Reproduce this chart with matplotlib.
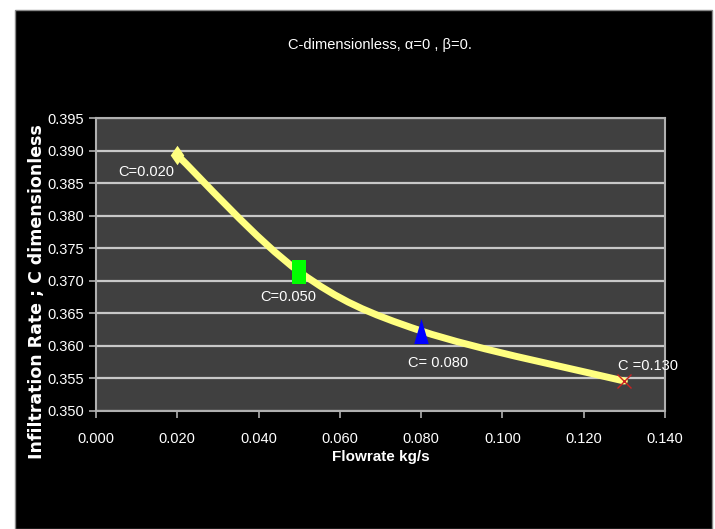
import matplotlib.pyplot as plt
from matplotlib.patches import Rectangle, PathPatch
from matplotlib.path import Path
import numpy as np

# valeurs
debit = [0.020, 0.050, 0.080, 0.130]
infiltration = [0.3893, 0.3714, 0.3623, 0.3546]
etiquettes = ["C=0.020", "C=0.050", "C= 0.080", "C =0.130"]
couleurs = ["#FFFF80", "#00FF00", "#0000FF", "#CC2222"]

plt.rcParams["font.family"] = ["Liberation Sans Narrow", "Liberation Sans", "DejaVu Sans"]

# marqueurs étirés en hauteur comme dans Excel
losange = Path([(0, 0.5), (0.35, 0), (0, -0.5), (-0.35, 0), (0, 0.5)])
rectangle = Path([(-0.3, -0.5), (0.3, -0.5), (0.3, 0.5), (-0.3, 0.5), (-0.3, -0.5)])
triangle = Path([(0, 0.5), (0.29, -0.5), (-0.29, -0.5), (0, 0.5)])
marqueurs = [losange, rectangle, triangle, "x"]
tailles = [14, 17, 18, 10]


def courbe_lisse(xs, ys):
    # courbe de Bézier type "lissage Excel" (Catmull-Rom) entre les points
    pts = list(zip(xs, ys))
    verts = [pts[0]]
    codes = [Path.MOVETO]
    for i in range(len(pts) - 1):
        p0 = pts[i - 1] if i > 0 else pts[i]
        p1 = pts[i]
        p2 = pts[i + 1]
        p3 = pts[i + 2] if i + 2 < len(pts) else pts[i + 1]
        c1 = (p1[0] + (p2[0] - p0[0]) / 6, p1[1] + (p2[1] - p0[1]) / 6)
        c2 = (p2[0] - (p3[0] - p1[0]) / 6, p2[1] - (p3[1] - p1[1]) / 6)
        verts += [c1, c2, p2]
        codes += [Path.CURVE4] * 3
    return Path(verts, codes)


fig = plt.figure(figsize=(7.15, 5.29), dpi=100, facecolor="white")
fig.patches.append(Rectangle((15 / 715, 0), 697 / 715, 519 / 529,
                             transform=fig.transFigure, facecolor="black",
                             edgecolor="#888888", linewidth=1, zorder=-5))

ax = fig.add_axes([96 / 715, 1 - 411 / 529, 569 / 715, 293 / 529])
ax.set_zorder(2)
ax.set_facecolor("#404040")

ax.add_patch(PathPatch(courbe_lisse(debit, infiltration), facecolor="none",
                       edgecolor="#FFFF80", linewidth=5, zorder=3,
                       capstyle="round"))

for x, y, m, c, t in zip(debit, infiltration, marqueurs, couleurs, tailles):
    if m == "x":
        ax.plot(x, y, marker=m, color=c, markersize=t, mew=1, zorder=4)
    else:
        ax.plot(x, y, marker=m, color=c, markersize=t, mec=c, mew=0, zorder=4)

decalages = [(-22, -12), (-8, -18), (12, -23), (17, 11)]
for x, y, t, d in zip(debit, infiltration, etiquettes, decalages):
    ax.annotate(t, (x, y), xytext=d, textcoords="offset points",
                color="white", fontsize=10.5, ha="center", va="center")

ax.set_xlim(0, 0.14)
ax.set_ylim(0.350, 0.395)
ax.set_xticks(np.arange(0, 0.141, 0.02))
ax.set_yticks(np.arange(0.350, 0.3951, 0.005))
ax.xaxis.set_major_formatter(plt.FormatStrFormatter("%.3f"))
ax.yaxis.set_major_formatter(plt.FormatStrFormatter("%.3f"))
ax.grid(True, axis="y", color="#C8C8C8", linewidth=1.6)
ax.set_axisbelow(True)
for s in ax.spines.values():
    s.set_color("#B0B0B0")
    s.set_linewidth(1.5)
ax.tick_params(colors="#B0B0B0", labelcolor="white", labelsize=10.5,
               length=5, width=1.2)
ax.tick_params(axis="x", pad=10)

ax.set_xlabel("Flowrate kg/s", color="white", fontsize=11, fontweight="bold",
              labelpad=3)
ax.set_ylabel("Infiltration Rate ; C dimensionless", color="white",
              fontsize=12.5, fontweight="bold", family=["DejaVu Sans"],
              va="center")
ax.yaxis.set_label_coords(-0.104, 0.406)
fig.text(380 / 715, 1 - 45 / 529, "C-dimensionless, α=0 , β=0.", color="white",
         fontsize=10.5, ha="center", va="center")

fig.savefig("out.png", dpi=100, facecolor=fig.get_facecolor())
